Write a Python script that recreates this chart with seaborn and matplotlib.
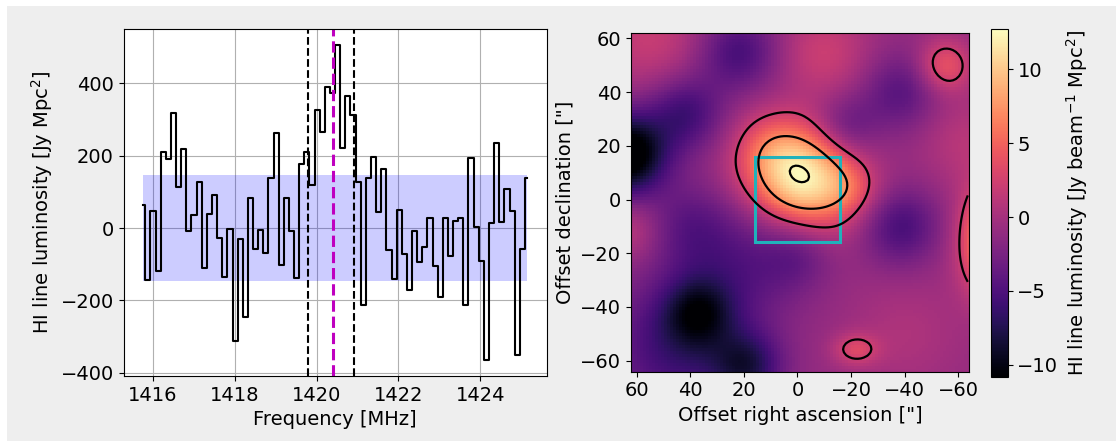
import numpy as np
import matplotlib
matplotlib.use("Agg")
import matplotlib.pyplot as plt
from matplotlib.patches import Rectangle
import seaborn as sns
import pandas as pd

# ---------------- data: spectrum ----------------
freq_start = 1415.7555      # MHz, first channel
chan_width = 0.1253         # MHz
luminosity = [63, -143, 46, -119, 210, 190, 318, 112, 217, -7, 37, 126, -110, 38, 92,
              -27, -136, -3, -313, -30, -247, 84, -58, -5, -69, 137, 263, -101, 84, -9,
              -138, 178, 210, 118, 327, 265, 390, 373, 506, 222, 364, 313, 126, -212, 138,
              195, 45, 164, -60, -140, 50, -72, -170, -8, -94, -53, 29, -105, -191, 28,
              -76, 20, 28, -212, 194, 4, -92, -365, 14, 234, 18, 107, 46, -351, -58, 138]
band_level = 146
line_window = [1419.79, 1420.91]
line_centre = 1420.405
freq_ticks = [1416, 1418, 1420, 1422, 1424]

# ---------------- data: map (components) ----------------
map_base = -1.0
blob_ra  = [-1.0, -20.0, -18.0, 0.0, 11.0,
            -55.0, -21.5, -72.0, 55.0, -10.0, -62.0, -40.0, 62.0,
            64.0, 22.0, 42.0, 37.0, 19.0, 45.0, -38.0, -38.0, 20.0, 40.0]
blob_dec = [9.0, 4.0, 27.0, -20.0, 21.0,
            50.0, -55.8, -15.0, 60.0, 55.0, 22.0, -50.0, -12.0,
            17.0, 55.0, 32.0, -42.0, -62.0, -55.0, -10.0, 40.0, -25.0, -10.0]
blob_amp = [13.5, 2.0, -3.0, -2.5, 1.3,
            5.0, 3.7, 9.9, 2.9, 3.1, 2.0, 1.5, 2.5,
            -12.0, -4.5, -5.0, -6.0, -6.0, -5.0, -4.5, -3.5, -3.0, -3.0]
blob_sx  = [15.0, 7.0, 8.0, 9.0, 8.0,
            7.0, 6.0, 8.0, 14.0, 12.0, 12.0, 15.0, 8.0,
            10.0, 10.0, 10.0, 9.0, 9.0, 18.0, 10.0, 10.0, 15.0, 12.0]
blob_sy  = [12.5, 7.0, 8.0, 9.0, 8.0,
            7.0, 4.2, 14.0, 14.0, 12.0, 12.0, 15.0, 8.0,
            10.0, 10.0, 10.0, 9.0, 9.0, 18.0, 10.0, 10.0, 15.0, 12.0]
blob_pa  = [30.0, 0, 0, 0, 0,
            0, 0, 0, 0, 0, 0, 0, 0,
            0, 0, 0, 0, 0, 0, 0, 0, 0, 0]
map_extent = [62.1, -64.1, -64.1, 62.1]
map_pixels = 114
cmap_limits = [-10.8, 12.7]
contour_levels = [2.2, 7.0, 12.2]
box_half = 16.0
offset_ticks = [60, 40, 20, 0, -20, -40, -60]
cbar_ticks = [-10, -5, 0, 5, 10]

# ---------------- figure ----------------
plt.rcParams["font.family"] = ["DejaVu Sans"]
plt.rcParams["font.size"] = 14
W, H = 1116, 441
fig = plt.figure(figsize=(W / 100, H / 100), dpi=100, facecolor="white")
fig.patches.append(Rectangle((7 / W, 0), 1, (H - 6) / H, transform=fig.transFigure,
                             facecolor="#eeeeee", edgecolor="none", zorder=-10))

def fax(x0, y0, x1, y1):
    return fig.add_axes([x0 / W, (H - y1) / H, (x1 - x0) / W, (y1 - y0) / H])

# ---- left: spectrum ----
ax1 = fax(123.5, 29, 546.7, 376)
freqs = freq_start + chan_width * np.arange(len(luminosity))
df = pd.DataFrame({"freq": freqs, "lum": luminosity})
ax1.grid(True, color="#b0b0b0", lw=0.8)
ax1.set_axisbelow(True)
ax1.fill_between([freqs[0], freqs[-1]], -band_level, band_level,
                 color="blue", alpha=0.2, lw=0)
sns.lineplot(data=df, x="freq", y="lum", ax=ax1, color="black", lw=1.5,
             drawstyle="steps-mid", estimator=None, sort=False)
for f in line_window:
    ax1.axvline(f, color="black", ls="--", lw=1.5)
ax1.axvline(line_centre, color="m", ls="--", lw=2.2)
ax1.set_xticks(freq_ticks)
ax1.set_yticks([-400, -200, 0, 200, 400])
ax1.set_xlabel("Frequency [MHz]")
ax1.set_ylabel("HI line luminosity [Jy Mpc$^2$]")

# ---- right: map ----
ax2 = fax(631, 32.7, 969.3, 371.7)
d = (map_extent[0] - map_extent[1]) / map_pixels
ra = map_extent[0] - (np.arange(map_pixels) + 0.5) * d
dec = map_extent[2] + (np.arange(map_pixels) + 0.5) * d
RA, DEC = np.meshgrid(ra, dec)
field = np.full_like(RA, map_base)
for x0, y0, a, sx, sy, pa in zip(blob_ra, blob_dec, blob_amp, blob_sx, blob_sy, blob_pa):
    t = np.deg2rad(pa)
    u = (RA - x0) * np.cos(t) + (DEC - y0) * np.sin(t)
    v = -(RA - x0) * np.sin(t) + (DEC - y0) * np.cos(t)
    field += a * np.exp(-0.5 * (u ** 2 / sx ** 2 + v ** 2 / sy ** 2))

im = ax2.imshow(field, origin="lower", extent=map_extent, cmap="magma",
                vmin=cmap_limits[0], vmax=cmap_limits[1], aspect="auto",
                interpolation="nearest")
ax2.contour(RA, DEC, field, levels=contour_levels, colors="black", linewidths=1.6)
ax2.add_patch(Rectangle((-box_half, -box_half), 2 * box_half, 2 * box_half,
                        fill=False, edgecolor="#20b2bb", lw=2.2))
ax2.set_xlim(map_extent[0], map_extent[1])
ax2.set_ylim(map_extent[2], map_extent[3])
ax2.set_xticks(offset_ticks)
ax2.set_yticks(offset_ticks)
ax2.set_xlabel('Offset right ascension ["]')
ax2.set_ylabel('Offset declination ["]')

cax = fax(990.7, 29.3, 1007.7, 376.7)
cb = fig.colorbar(im, cax=cax, ticks=cbar_ticks)
cb.set_label("HI line luminosity [Jy beam$^{-1}$ Mpc$^2$]")

fig.savefig("out.png", dpi=100, facecolor=fig.get_facecolor())
